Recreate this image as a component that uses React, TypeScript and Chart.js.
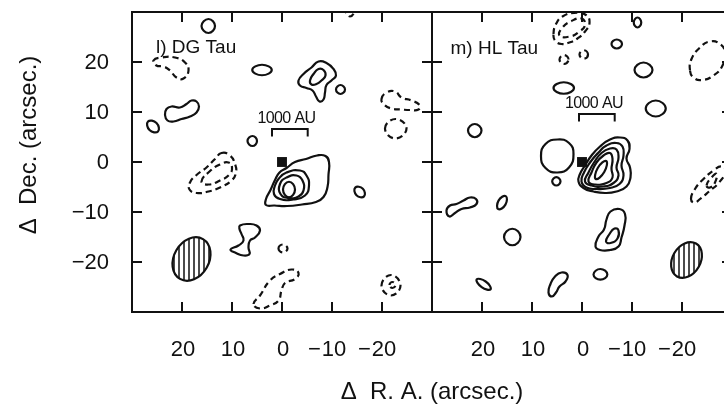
import React, { useEffect, useRef } from "react";
import { Chart, registerables } from "chart.js";

Chart.register(...registerables);

type Pt = [number, number];

// ---------- axes (offsets in arcsec) ----------
const raTicks = [20, 10, 0, -10, -20];
const raTickLabels = ["20", "10", "0", "\u221210", "\u221220"];
const decTicks = [20, 10, 0, -10, -20];
const decTickLabels = ["20", "10", "0", "\u221210", "\u221220"];

// ---------- DG Tau: positive (solid) contours ----------
const dgCoreOuter: Pt[] = [[-0.9, -1.2], [-2.6, 0.0], [-4.8, 0.6], [-7.0, 1.3], [-8.7, 1.2], [-9.4, 0.0], [-9.3, -2.5], [-9.1, -5.0], [-8.3, -7.0], [-6.8, -8.0], [-4.0, -8.5], [-1.0, -8.8], [1.5, -8.7], [3.2, -8.6], [3.2, -7.4], [2.3, -5.6], [1.4, -3.6], [0.5, -2.1]];
const dgCore2: Pt[] = [[0.7, -3.4], [-0.9, -2.1], [-3.6, -1.7], [-4.9, -2.7], [-5.4, -4.7], [-4.6, -6.7], [-2.3, -7.5], [0.4, -7.4], [1.6, -6.4], [1.4, -4.7]];
const dgCore3: Pt[] = [[0.4, -4.4], [-0.9, -3.1], [-2.9, -2.7], [-4.1, -3.7], [-4.3, -5.7], [-3.3, -6.9], [-1.3, -7.2], [0.3, -6.4]];
const dgCore4: Pt[] = [[-0.2, -5.5], [-1.4, -3.95], [-2.6, -5.5], [-1.4, -7.05]];
const dgNorthOuter: Pt[] = [[-3.3, 16.3], [-4.3, 17.6], [-5.9, 18.9], [-7.3, 20.1], [-8.9, 19.8], [-10.3, 18.6], [-10.8, 17.3], [-9.9, 16.3], [-8.9, 15.4], [-8.6, 13.9], [-8.3, 12.5], [-7.5, 12.1], [-6.8, 13.1], [-6.1, 14.3], [-4.9, 14.8], [-3.6, 15.3]];
const dgNorthInner: Pt[] = [[-5.6, 16.3], [-6.3, 17.6], [-7.3, 18.6], [-8.3, 18.4], [-8.7, 17.3], [-7.9, 16.3], [-6.9, 15.6], [-5.9, 15.5]];
const dgNorthDot: Pt[] = [[-10.8, 14.5], [-11.7, 15.4], [-12.6, 14.5], [-11.7, 13.6]];
const dgTopDot: Pt[] = [[13.4, 27.2], [14.7, 28.6], [16.1, 27.2], [14.7, 25.8]];
const dgWestKnot: Pt[] = [[2.05, 18.4], [4.0, 19.45], [5.95, 18.4], [4.0, 17.35]];
const dgWestBlob: Pt[] = [[23.4, 9.4], [23.1, 10.6], [22.1, 11.1], [20.4, 10.9], [19.1, 11.6], [18.1, 12.3], [17.1, 12.1], [16.6, 11.1], [17.1, 9.9], [18.4, 9.1], [20.1, 8.6], [21.7, 8.1], [22.9, 8.3]];
const dgWestDot: Pt[] = [[26.8, 8.1], [25.1, 7.8], [24.8, 6.1], [26.5, 6.4]];
const dgInnerDot: Pt[] = [[5.0, 4.2], [5.9, 5.2], [6.9, 4.2], [5.9, 3.2]];
const dgEastDot: Pt[] = [[-14.65, -5.12], [-16.17, -5.36], [-16.41, -6.88], [-14.89, -6.64]];
const dgSouthKnot: Pt[] = [[8.4, -12.7], [6.7, -12.4], [5.1, -12.7], [4.4, -13.7], [5.4, -15.1], [6.4, -15.7], [6.7, -17.1], [6.5, -18.4], [7.7, -18.7], [9.2, -18.2], [10.3, -17.5], [8.7, -16.7], [7.7, -15.7], [8.1, -14.4], [8.5, -13.4]];

// ---------- DG Tau: negative (dashed) contours ----------
const dgNegTop: Pt[] = [[-12.7, 30.4], [-13.6, 31.6], [-14.5, 30.4], [-13.6, 29.1]];
const dgNegNW: Pt[] = [[25.7, 20.3], [24.1, 20.9], [21.4, 20.9], [19.4, 19.9], [18.7, 18.3], [19.7, 16.7], [21.1, 16.9], [22.4, 18.3], [23.7, 19.1], [25.1, 19.3]];
const dgNegMidOuter: Pt[] = [[12.1, 1.8], [10.4, 1.3], [9.4, -0.4], [9.2, -2.1], [10.1, -3.7], [12.4, -5.1], [14.7, -5.9], [17.1, -6.2], [18.5, -5.5], [18.4, -4.1], [17.1, -2.6], [15.1, -1.1], [13.4, 0.6]];
const dgNegMidInner: Pt[] = [[16.1, -3.9], [14.5, -1.9], [12.4, -0.5], [10.7, -0.1], [10.0, -1.1], [10.5, -2.5], [12.4, -3.7], [14.7, -4.5]];
const dgNegEast: Pt[] = [[-19.9, 12.6], [-20.9, 13.9], [-22.6, 14.1], [-23.9, 12.9], [-25.9, 12.3], [-27.5, 11.4], [-27.3, 10.5], [-25.6, 10.4], [-23.9, 10.5], [-21.9, 10.7], [-20.4, 11.5]];
const dgNegEast2: Pt[] = [[-20.6, 6.7], [-22.7, 8.6], [-24.9, 6.7], [-22.7, 4.7]];
const dgNegSouthDot: Pt[] = [[0.7, -17.3], [-0.2, -16.5], [-1.1, -17.3], [-0.2, -18.1]];
const dgNegSouth: Pt[] = [[5.7, -28.4], [4.4, -26.7], [2.4, -23.7], [0.4, -22.4], [-1.9, -21.5], [-3.3, -22.2], [-2.6, -23.4], [-0.6, -24.2], [0.1, -25.7], [0.7, -27.7], [2.4, -28.7], [4.4, -29.3]];
const dgNegSEOuter: Pt[] = [[-19.9, -24.7], [-21.8, -22.6], [-23.7, -24.7], [-21.8, -26.7]];
const dgNegSEInner: Pt[] = [[-21.5, -24.6], [-22.1, -24.0], [-22.7, -24.6], [-22.1, -25.2]];

// ---------- HL Tau: positive (solid) contours ----------
const hlCore1: Pt[] = [[0.7, -3.9], [0.4, -2.4], [-0.6, -0.7], [-1.9, 1.3], [-3.6, 3.1], [-5.6, 4.5], [-7.6, 4.9], [-9.1, 4.3], [-9.5, 2.6], [-8.9, 0.7], [-9.6, -1.1], [-9.7, -3.1], [-8.9, -4.9], [-6.9, -5.9], [-4.6, -6.2], [-2.3, -5.9], [-0.3, -5.2]];
const hlCore2: Pt[] = [[0.1, -3.9], [-0.4, -2.1], [-1.6, -0.1], [-3.3, 1.9], [-4.9, 3.3], [-6.9, 3.8], [-8.1, 3.1], [-8.3, 1.3], [-7.9, -0.7], [-8.3, -2.7], [-7.5, -4.4], [-5.6, -5.2], [-2.9, -5.4], [-0.9, -5.1]];
const hlCore3: Pt[] = [[-0.6, -3.9], [-1.3, -2.1], [-2.4, -0.1], [-3.9, 1.8], [-5.6, 2.7], [-6.9, 2.5], [-7.3, 0.9], [-6.9, -1.1], [-7.3, -2.7], [-6.3, -4.2], [-4.3, -4.9], [-1.9, -4.7]];
const hlCore4: Pt[] = [[-1.3, -3.9], [-1.9, -2.1], [-2.9, -0.1], [-4.3, 1.3], [-5.6, 1.8], [-6.1, 0.6], [-5.9, -1.4], [-6.1, -3.1], [-4.9, -4.2], [-2.6, -4.5]];
const hlCore5: Pt[] = [[-4.85, 0.2], [-3.15, -1.2], [-2.75, -3.4], [-4.45, -2.0]];
const hlSouthOuter: Pt[] = [[-2.7, -16.9], [-3.3, -14.9], [-4.4, -13.5], [-4.9, -11.5], [-5.7, -9.9], [-7.5, -9.4], [-8.6, -10.4], [-8.5, -12.7], [-7.9, -15.1], [-7.3, -16.9], [-5.6, -17.6], [-3.6, -17.6]];
const hlSouthInner: Pt[] = [[-4.8, -15.9], [-5.5, -14.4], [-6.5, -13.3], [-7.3, -13.7], [-7.1, -15.3], [-5.7, -16.2]];
const hlDotN: Pt[] = [[-10.35, 27.9], [-11.1, 28.9], [-11.85, 27.9], [-11.1, 26.9]];
const hlDotN2: Pt[] = [[-5.9, 23.6], [-6.95, 24.5], [-8.0, 23.6], [-6.95, 22.7]];
const hlKnotNE: Pt[] = [[-10.5, 18.4], [-12.3, 19.9], [-14.1, 18.4], [-12.3, 16.9]];
const hlKnotE: Pt[] = [[-12.75, 10.7], [-14.75, 12.3], [-16.75, 10.7], [-14.75, 9.1]];
const hlKnotN: Pt[] = [[1.6, 14.8], [3.65, 15.95], [5.7, 14.8], [3.65, 13.65]];
const hlDotW: Pt[] = [[20.1, 6.3], [21.45, 7.6], [22.8, 6.3], [21.45, 4.95]];
const hlBlobW: Pt[] = [[1.7, 1.6], [2.6, 3.8], [4.9, 4.5], [7.3, 3.6], [8.2, 1.2], [7.3, -1.2], [4.9, -2.1], [2.6, -1.1]];
const hlDotSW: Pt[] = [[4.3, -3.87], [5.13, -3.04], [5.96, -3.87], [5.13, -4.7]];
const hlStreakW: Pt[] = [[27.1, -9.7], [26.4, -8.7], [25.1, -8.4], [23.7, -7.7], [22.4, -7.1], [21.2, -7.4], [21.1, -8.4], [22.4, -9.1], [24.1, -9.4], [25.4, -10.2], [26.5, -10.9]];
const hlKnotSW: Pt[] = [[15.25, -6.83], [16.69, -7.73], [16.75, -9.43], [15.31, -8.53]];
const hlDotS: Pt[] = [[12.3, -15.0], [13.93, -13.35], [15.6, -15.0], [13.93, -16.65]];
const hlKnotS2: Pt[] = [[21.06, -23.49], [19.27, -23.9], [18.28, -25.45], [20.07, -25.04]];
const hlStreakS: Pt[] = [[6.7, -26.1], [6.3, -24.4], [5.4, -22.9], [4.1, -22.1], [2.9, -22.6], [3.3, -23.9], [4.5, -24.9], [5.2, -26.1], [6.0, -26.9]];
const hlDotSE: Pt[] = [[-2.3, -22.5], [-3.67, -21.4], [-5.07, -22.5], [-3.67, -23.54]];

// ---------- HL Tau: negative (dashed) contours ----------
const hlNegTopOuter: Pt[] = [[5.7, 25.6], [5.2, 27.6], [3.9, 29.1], [1.6, 29.8], [-0.8, 29.4], [-1.5, 27.8], [-0.6, 26.1], [0.9, 24.7], [2.5, 23.9], [4.1, 23.6], [5.4, 24.3]];
const hlNegTopInner: Pt[] = [[4.5, 25.3], [3.9, 26.9], [2.3, 28.1], [0.1, 28.7], [-0.6, 27.4], [0.5, 26.1], [2.4, 25.1]];
const hlNegDot1: Pt[] = [[2.7, 20.5], [3.6, 21.4], [4.5, 20.5], [3.6, 19.6]];
const hlNegDot2: Pt[] = [[-1.2, 21.5], [-0.35, 22.35], [0.5, 21.5], [-0.35, 20.65]];
const hlNegNE: Pt[] = [[-21.6, 18.3], [-21.9, 20.6], [-23.6, 22.9], [-25.6, 24.1], [-27.6, 23.6], [-28.6, 21.9], [-28.1, 19.3], [-26.3, 17.3], [-23.9, 16.4], [-22.3, 16.9]];
const hlNegEOuter: Pt[] = [[-21.8, -7.4], [-22.6, -5.4], [-24.3, -3.4], [-26.3, -1.7], [-27.9, -0.9], [-28.7, -1.9], [-27.4, -4.1], [-25.4, -5.9], [-23.6, -7.4], [-22.5, -8.1]];
const hlNegEInner: Pt[] = [[-24.9, -4.7], [-25.9, -3.1], [-26.9, -2.4], [-26.6, -4.1], [-25.6, -5.1]];

// contour groups per source
const dgPositive = [dgCoreOuter, dgCore2, dgCore3, dgCore4, dgNorthOuter, dgNorthInner, dgNorthDot, dgTopDot, dgWestKnot, dgWestBlob, dgWestDot, dgInnerDot, dgEastDot, dgSouthKnot];
const dgNegative = [dgNegTop, dgNegNW, dgNegMidOuter, dgNegMidInner, dgNegEast, dgNegEast2, dgNegSouthDot, dgNegSouth, dgNegSEOuter, dgNegSEInner];
const hlPositive = [hlCore1, hlCore2, hlCore3, hlCore4, hlCore5, hlSouthOuter, hlSouthInner, hlDotN, hlDotN2, hlKnotNE, hlKnotE, hlKnotN, hlDotW, hlBlobW, hlDotSW, hlStreakW, hlKnotSW, hlDotS, hlKnotS2, hlStreakS, hlDotSE];
const hlNegative = [hlNegTopOuter, hlNegTopInner, hlNegDot1, hlNegDot2, hlNegNE, hlNegEOuter, hlNegEInner];

// star positions
const dgStar: Pt = [0, 0];
const hlStar: Pt = [0, 0];

// synthesized beams: [x, y, major, minor (arcsec), position angle (deg)]
const dgBeam = [18.1, -19.4, 4.6, 3.5, 30];
const hlBeam = [-20.9, -19.6, 3.8, 2.8, 30];

// 1000 AU at 140 pc, in arcsec; bar start [x, y]
const auBarArcsec = 7.14;
const dgBarStart: Pt = [2.0, 6.6];
const hlBarStart: Pt = [0.6, 9.6];

const INK = "#111";
const FONT = '"Liberation Sans", Arial, Helvetica, sans-serif';

const toXY = (pts: Pt[]) => pts.map(([x, y]) => ({ x, y }));

function scaleBar([x0, y0]: Pt): Pt[] {
  const leg = 1.5;
  const x1 = x0 - auBarArcsec;
  return [[x0, y0 - leg], [x0, y0], [x1, y0], [x1, y0 - leg]];
}

function buildDatasets(pos: Pt[][], neg: Pt[][], barStart: Pt, star: Pt) {
  const ds: any[] = [];
  const base = { showLine: true, closed: true, spanGaps: true, borderColor: INK, borderWidth: 2.2, pointRadius: 0, tension: 0.5, fill: false };
  for (const c of pos) ds.push({ ...base, data: toXY(c) });
  for (const c of neg) ds.push({ ...base, data: toXY(c), borderDash: [6, 4] });
  ds.push({ data: toXY(scaleBar(barStart)), showLine: true, borderColor: INK, borderWidth: 2, pointRadius: 0, tension: 0 });
  ds.push({ data: toXY([star]), showLine: false, pointStyle: "rect", pointRadius: 7, backgroundColor: INK, borderColor: INK, borderWidth: 0 });
  return ds;
}

interface PanelCfg {
  label: string;
  labelAt: Pt;
  auAt: Pt;
  beam: number[];
  yLabels: boolean;
  titles: boolean;
}

function panelPlugin(cfg: PanelCfg) {
  return {
    id: "panelDecor",
    afterDatasetsUpdate(chart: any) {
      // contours are closed curves: draw each as a smooth loop
      chart.data.datasets.forEach((d: any, i: number) => {
        if (!d.closed) return;
        const el: any = chart.getDatasetMeta(i).dataset;
        if (el) {
          el._loop = true;
          el._fullLoop = true;
          delete el._segments;
          delete el._path;
          el._pointsUpdated = false;
        }
      });
    },
    beforeDatasetsDraw(chart: any) {
      const { ctx, scales } = chart;
      const xs = scales.x, ys = scales.y;
      const [bx, by, bmaj, bmin, bpa] = cfg.beam;
      const cx = xs.getPixelForValue(bx);
      const cy = ys.getPixelForValue(by);
      const ppa = Math.abs(xs.getPixelForValue(1) - xs.getPixelForValue(0));
      const rot = (bpa * Math.PI) / 180;
      ctx.save();
      ctx.beginPath();
      ctx.ellipse(cx, cy, bmin * ppa, bmaj * ppa, rot, 0, Math.PI * 2);
      ctx.save();
      ctx.clip();
      ctx.strokeStyle = INK;
      ctx.lineWidth = 1.5;
      ctx.beginPath();
      for (let k = -8; k <= 8; k++) {
        const x = cx + (k + 0.5) * ppa;
        ctx.moveTo(x, cy - bmaj * ppa - 4);
        ctx.lineTo(x, cy + bmaj * ppa + 4);
      }
      ctx.stroke();
      ctx.restore();
      ctx.beginPath();
      ctx.ellipse(cx, cy, bmin * ppa, bmaj * ppa, rot, 0, Math.PI * 2);
      ctx.strokeStyle = INK;
      ctx.lineWidth = 2.2;
      ctx.stroke();
      ctx.restore();
    },
    afterDraw(chart: any) {
      const { ctx, chartArea: a, scales } = chart;
      const xs = scales.x, ys = scales.y;
      const TICK = 10;
      ctx.save();
      ctx.strokeStyle = INK;
      ctx.fillStyle = INK;
      ctx.lineWidth = 2;
      ctx.strokeRect(a.left, a.top, a.right - a.left, a.bottom - a.top);

      ctx.beginPath();
      decTicks.forEach((v) => {
        const py = ys.getPixelForValue(v);
        ctx.moveTo(a.left, py);
        ctx.lineTo(a.left + TICK, py);
        ctx.moveTo(a.right, py);
        ctx.lineTo(a.right - TICK, py);
      });
      raTicks.forEach((v) => {
        const px = xs.getPixelForValue(v);
        ctx.moveTo(px, a.bottom);
        ctx.lineTo(px, a.bottom - TICK);
        ctx.moveTo(px, a.top);
        ctx.lineTo(px, a.top + TICK);
      });
      ctx.stroke();

      // RA tick labels: digits centred on the tick, minus sign hanging left
      ctx.font = `22px ${FONT}`;
      ctx.textBaseline = "middle";
      const yLab = a.bottom + 38;
      raTicks.forEach((v, i) => {
        const px = xs.getPixelForValue(v);
        const lab = raTickLabels[i];
        const neg = lab.startsWith("\u2212");
        const digits = neg ? lab.slice(1) : lab;
        const cxl = px + (neg ? 2 : 1);
        ctx.textAlign = "center";
        ctx.fillText(digits, cxl, yLab);
        if (neg) {
          const w = ctx.measureText(digits).width;
          ctx.textAlign = "right";
          ctx.fillText("\u2212", cxl - w / 2 - 1, yLab);
        }
      });

      if (cfg.yLabels) {
        ctx.textAlign = "right";
        decTicks.forEach((v, i) => {
          ctx.fillText(decTickLabels[i], a.left - 23, ys.getPixelForValue(v) + 1);
        });
      }

      if (cfg.titles) {
        ctx.font = `24px ${FONT}`;
        ctx.textAlign = "center";
        ctx.fillText("\u0394  R. A. (arcsec.)", a.right, a.bottom + 80);
        ctx.save();
        ctx.translate(a.left - 103, a.top + 133);
        ctx.rotate(-Math.PI / 2);
        ctx.fillText("\u0394  Dec. (arcsec.)", 0, 0);
        ctx.restore();
      }

      // panel label
      ctx.font = `19px ${FONT}`;
      ctx.textAlign = "left";
      ctx.textBaseline = "alphabetic";
      ctx.fillText(cfg.label, xs.getPixelForValue(cfg.labelAt[0]), ys.getPixelForValue(cfg.labelAt[1]));

      // scale-bar caption
      ctx.font = `16px ${FONT}`;
      (ctx as any).letterSpacing = "-0.6px";
      ctx.textAlign = "center";
      ctx.fillText("1000 AU", xs.getPixelForValue(cfg.auAt[0]), ys.getPixelForValue(cfg.auAt[1]));
      ctx.restore();
    },
  };
}

function makeChart(canvas: HTMLCanvasElement, datasets: any[], padding: any, cfg: PanelCfg) {
  return new Chart(canvas, {
    type: "scatter",
    data: { datasets },
    options: {
      animation: false,
      responsive: false,
      maintainAspectRatio: false,
      devicePixelRatio: 1,
      events: [],
      layout: { padding },
      plugins: { legend: { display: false }, tooltip: { enabled: false } },
      scales: {
        x: { type: "linear", min: -30, max: 30, reverse: true, display: false },
        y: { type: "linear", min: -30, max: 30, display: false },
      },
    } as any,
    plugins: [panelPlugin(cfg) as any],
  });
}

export default function App() {
  const leftRef = useRef<HTMLCanvasElement>(null);
  const rightRef = useRef<HTMLCanvasElement>(null);

  useEffect(() => {
    const c1 = makeChart(
      leftRef.current!,
      buildDatasets(dgPositive, dgNegative, dgBarStart, dgStar),
      { left: 132, right: 292, top: 12, bottom: 94 },
      { label: "l) DG Tau", labelAt: [25.2, 21.8], auAt: [-0.9, 7.8], beam: dgBeam, yLabels: true, titles: true }
    );
    const c2 = makeChart(
      rightRef.current!,
      buildDatasets(hlPositive, hlNegative, hlBarStart, hlStar),
      { left: 8, right: 8, top: 12, bottom: 94 },
      { label: "m) HL Tau", labelAt: [26.3, 21.6], auAt: [-2.4, 10.8], beam: hlBeam, yLabels: false, titles: false }
    );
    return () => {
      c1.destroy();
      c2.destroy();
    };
  }, []);

  return (
    <div style={{ position: "absolute", left: 0, top: 0, width: 724, height: 406, overflow: "hidden", background: "#fff" }}>
      <canvas ref={leftRef} width={724} height={406} style={{ position: "absolute", left: 0, top: 0, width: 724, height: 406 }} />
      <canvas ref={rightRef} width={316} height={406} style={{ position: "absolute", left: 424, top: 0, width: 316, height: 406 }} />
    </div>
  );
}
